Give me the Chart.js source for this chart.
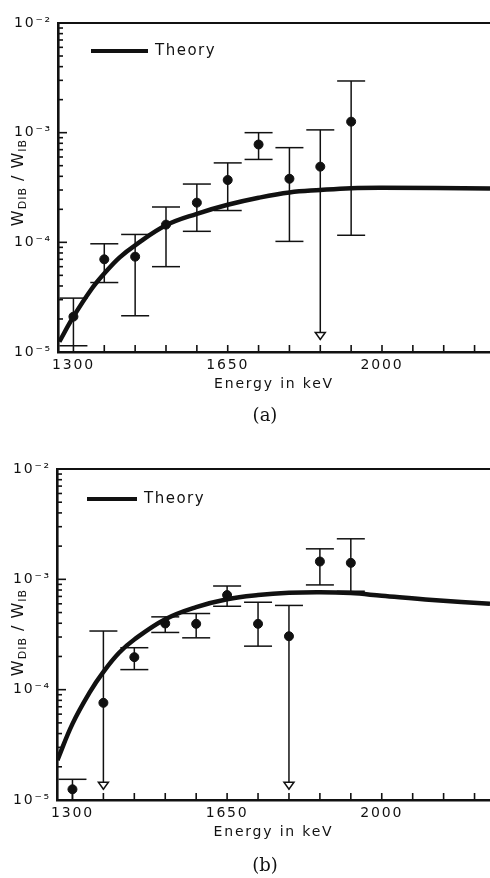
<!DOCTYPE html>
<html>
<head>
<meta charset="utf-8">
<script src="https://cdn.jsdelivr.net/npm/chart.js@4.4.0/dist/chart.umd.min.js"></script>
<style>
	body { margin: 0; background: #fff; width: 490px; height: 878px; position: relative; overflow: hidden; }
	.panel { position: absolute; left: 0; width: 490px; height: 440px; }
	.ylab { position: absolute; width: 200px; text-align: center; transform: rotate(-90deg); font-family: "DejaVu Sans", sans-serif; font-size: 16px; color: #111; letter-spacing: 1px; }
	.ylab sub { font-size: 11px; vertical-align: -3px; }
	.cap { position: absolute; width: 60px; text-align: center; font-family: "DejaVu Serif", "Liberation Serif", serif; font-size: 18px; color: #111; }
</style>
</head>
<body>
<canvas id="chart-a" class="panel" width="490" height="440" style="top:0"></canvas>
<canvas id="chart-b" class="panel" width="490" height="440" style="top:440px"></canvas>
<div class="ylab" style="left:-82px; top:172px">W<sub>DIB</sub> / W<sub>IB</sub></div>
<div class="ylab" style="left:-82px; top:622px">W<sub>DIB</sub> / W<sub>IB</sub></div>
<div class="cap" style="left:235px; top:404px">(a)</div>
<div class="cap" style="left:235px; top:854px">(b)</div>
<script>
// Panel (a) measurements
const energyA = [1300, 1370, 1440, 1510, 1580, 1650, 1720, 1790, 1860, 1930];
const ratioA = [2.1e-5, 7.0e-5, 7.4e-5, 1.45e-4, 2.3e-4, 3.7e-4, 7.8e-4, 3.8e-4, 4.9e-4, 1.26e-3];
const upperA = [3.1e-5, 9.7e-5, 1.18e-4, 2.1e-4, 3.4e-4, 5.3e-4, 1.0e-3, 7.3e-4, 1.06e-3, 2.96e-3];
const lowerA = [1.14e-5, 4.3e-5, 2.14e-5, 6.0e-5, 1.26e-4, 1.95e-4, 5.7e-4, 1.02e-4, 1.3e-5, 1.16e-4];
const limitA = [false, false, false, false, false, false, false, false, true, false];

// Panel (a) theory curve
const theoryEnergyA = [1268, 1300, 1340, 1370, 1405, 1440, 1510, 1580, 1650, 1720, 1790, 1860, 1930, 2000, 2245];
const theoryRatioA = [1.24e-5, 2.1e-5, 3.7e-5, 5.2e-5, 7.3e-5, 9.4e-5, 1.43e-4, 1.82e-4, 2.2e-4, 2.55e-4, 2.85e-4, 3.0e-4, 3.12e-4, 3.15e-4, 3.1e-4];

// Panel (b) measurements
const energyB = [1300, 1370, 1440, 1510, 1580, 1650, 1720, 1790, 1860, 1930];
const ratioB = [1.25e-5, 7.6e-5, 1.97e-4, 3.98e-4, 3.95e-4, 7.2e-4, 3.95e-4, 3.05e-4, 1.45e-3, 1.41e-3];
const upperB = [1.54e-5, 3.4e-4, 2.4e-4, 4.57e-4, 4.9e-4, 8.7e-4, 6.2e-4, 5.8e-4, 1.89e-3, 2.33e-3];
const lowerB = [1.0e-5, 1.25e-5, 1.52e-4, 3.3e-4, 2.95e-4, 5.7e-4, 2.48e-4, 1.25e-5, 8.9e-4, 7.8e-4];
const limitB = [false, true, false, false, false, false, false, true, false, false];

// Panel (b) theory curve
const theoryEnergyB = [1266, 1300, 1340, 1370, 1405, 1440, 1510, 1580, 1650, 1720, 1790, 1860, 1930, 2000, 2115, 2245];
const theoryRatioB = [2.3e-5, 4.9e-5, 9.6e-5, 1.45e-4, 2.15e-4, 2.85e-4, 4.35e-4, 5.6e-4, 6.6e-4, 7.2e-4, 7.55e-4, 7.65e-4, 7.5e-4, 7.1e-4, 6.5e-4, 6.0e-4];

// Axes
const xTicks = [1300, 1370, 1440, 1510, 1580, 1650, 1720, 1790, 1860, 1930, 2000, 2070, 2140, 2210];
const xLabelled = [1300, 1650, 2000];
const yDecades = [1e-5, 1e-4, 1e-3, 1e-2];
const yDecadeLabels = ['10\u207B\u2075', '10\u207B\u2074', '10\u207B\u00B3', '10\u207B\u00B2'];
const yMinorSteps = [2, 3, 4, 5, 6, 7, 8, 9];

const ink = '#111';
const font = "'DejaVu Sans', sans-serif";

function strokeLine (ctx, x1, y1, x2, y2) {
	ctx.beginPath();
	ctx.moveTo(x1, y1);
	ctx.lineTo(x2, y2);
	ctx.stroke();
}

// error bars, upper-limit arrows, inner ticks, top frame and the legend
const decorations = {
	id: 'decorations',
	beforeDraw (chart) {
		chart.ctx.letterSpacing = '1.8px';
	},
	afterDatasetsDraw (chart, args, opts) {
		const { ctx, scales: { x, y } } = chart;
		ctx.save();
		ctx.strokeStyle = ink;
		ctx.lineWidth = 1.5;

		opts.energy.forEach((e, i) => {
			const px = x.getPixelForValue(e);
			const top = y.getPixelForValue(opts.upper[i]);
			const bottom = y.getPixelForValue(opts.lower[i]);
			const half = 14;

			strokeLine(ctx, px, top, px, bottom);
			strokeLine(ctx, px - half, top, px + half, top);

			if (opts.limit[i]) {
				ctx.beginPath();
				ctx.moveTo(px - 5, bottom - 7);
				ctx.lineTo(px + 5, bottom - 7);
				ctx.lineTo(px, bottom);
				ctx.closePath();
				ctx.fillStyle = '#fff';
				ctx.fill();
				ctx.stroke();
			} else {
				strokeLine(ctx, px - half, bottom, px + half, bottom);
			}
		});

		ctx.restore();
	},
	afterDraw (chart, args, opts) {
		const { ctx, chartArea: area, scales: { x, y } } = chart;
		ctx.save();
		ctx.strokeStyle = ink;
		ctx.lineWidth = 1.6;

		x.ticks.forEach(t => {
			const px = x.getPixelForValue(t.value);
			strokeLine(ctx, px, area.bottom, px, area.bottom - 7);
		});

		y.ticks.forEach(t => {
			const py = y.getPixelForValue(t.value);
			const len = yDecades.some(d => Math.abs(d - t.value) < d * 1e-6) ? 9 : 5;
			strokeLine(ctx, area.left, py, area.left + len, py);
		});

		ctx.lineWidth = 2.2;
		strokeLine(ctx, area.left, area.top, area.right, area.top);

		// legend
		const lx = area.left + opts.legendX;
		const ly = area.top + opts.legendY;
		ctx.lineWidth = 4;
		strokeLine(ctx, lx, ly, lx + opts.legendLen, ly);
		ctx.fillStyle = ink;
		ctx.font = '15px ' + font;
		ctx.letterSpacing = '1.5px';
		ctx.textBaseline = 'middle';
		ctx.fillText('Theory', lx + opts.legendLen + 7, ly);

		ctx.restore();
	}
};

function buildChart (canvasId, energy, ratio, upper, lower, limit, theoryEnergy, theoryRatio, padding, legend) {
	return new Chart(document.getElementById(canvasId), {
		type: 'scatter',
		data: {
			datasets: [{
				label: 'Theory',
				data: theoryEnergy.map((e, i) => ({ x: e, y: theoryRatio[i] })),
				showLine: true,
				borderColor: ink,
				borderWidth: 4.5,
				pointRadius: 0,
				tension: 0.4
			}, {
				label: 'Experiment',
				data: energy.map((e, i) => ({ x: e, y: ratio[i] })),
				backgroundColor: ink,
				borderColor: ink,
				pointRadius: 4.5
			}]
		},
		options: {
			responsive: false,
			animation: false,
			layout: { padding: padding, autoPadding: false },
			plugins: {
				legend: { display: false },
				tooltip: { enabled: false },
				decorations: Object.assign({ energy, upper, lower, limit }, legend)
			},
			scales: {
				x: {
					type: 'linear',
					min: 1265,
					max: 2245,
					afterBuildTicks: scale => { scale.ticks = xTicks.map(v => ({ value: v })); },
					afterFit: scale => {
						scale.height = 45;
						scale.paddingLeft = 0;
						scale.paddingRight = 0;
					},
					grid: { display: false, drawTicks: false },
					border: { display: true, color: ink, width: 2.6 },
					ticks: {
						color: ink,
						padding: 5,
						maxRotation: 0,
						autoSkip: false,
						font: { family: font, size: 14 },
						callback: v => xLabelled.includes(v) ? String(v) : ''
					},
					title: {
						display: true,
						text: 'Energy in keV',
						color: ink,
						font: { family: font, size: 14 },
						padding: { top: 0, bottom: 4 }
					}
				},
				y: {
					type: 'logarithmic',
					min: 1e-5,
					max: 1e-2,
					afterBuildTicks: scale => {
						const ticks = [];
						yDecades.forEach((d, i) => {
							ticks.push({ value: d });
							if (i < yDecades.length - 1) yMinorSteps.forEach(m => ticks.push({ value: d * m }));
						});
						scale.ticks = ticks;
					},
					afterFit: scale => {
						scale.width = padding.yWidth;
						scale.paddingTop = 0;
						scale.paddingBottom = 0;
					},
					grid: { display: false, drawTicks: false },
					border: { display: true, color: ink, width: 2.6 },
					ticks: {
						color: ink,
						padding: 6,
						autoSkip: false,
						font: { family: font, size: 14 },
						callback: v => {
							const i = yDecades.findIndex(d => Math.abs(d - v) < d * 1e-6);
							return i >= 0 ? yDecadeLabels[i] : '';
						}
					}
				}
			}
		},
		plugins: [decorations]
	});
}

buildChart('chart-a', energyA, ratioA, upperA, lowerA, limitA, theoryEnergyA, theoryRatioA,
	{ top: 23, bottom: 43, left: 0, right: 0, yWidth: 58 },
	{ legendX: 33, legendY: 28, legendLen: 57 });

buildChart('chart-b', energyB, ratioB, upperB, lowerB, limitB, theoryEnergyB, theoryRatioB,
	{ top: 29, bottom: 35, left: 0, right: 0, yWidth: 57 },
	{ legendX: 30, legendY: 30, legendLen: 50 });
</script>
</body>
</html>
